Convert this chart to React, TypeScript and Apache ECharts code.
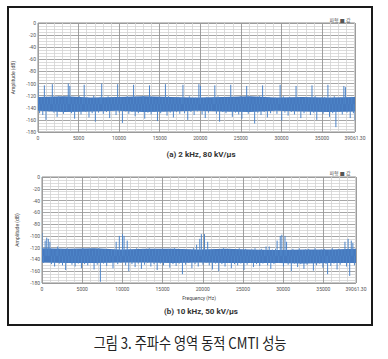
import React, { useEffect, useRef } from 'react';
import * as echarts from 'echarts';

const FREQ_MAX = 39061.3;
const AMP_MIN = -180;
const AMP_MAX = 0;

// (a) 2 kHz, 80 kV/us  – amplitude samples (dB), evenly spaced from 0 to FREQ_MAX
const ampA: number[] = [
  -102, -149, -123, -152, -103, -160, -125, -146, -122, -101,
  -148, -124, -155, -121, -147, -126, -150, -123, -145, -100,
  -104, -149, -122, -158, -125, -146, -121, -151, -124, -102,
  -147, -123, -156, -126, -149, -120, -163, -124, -148, -122,
  -100, -150, -125, -147, -121, -157, -124, -145, -122, -152,
  -101, -148, -123, -165, -125, -146, -121, -150, -126, -147,
  -102, -154, -122, -149, -124, -146, -120, -158, -125, -148,
  -103, -151, -123, -147, -126, -162, -122, -149, -124, -146,
  -101, -153, -121, -148, -125, -156, -123, -147, -122, -150,
  -124, -102, -149, -126, -160, -121, -147, -125, -152, -123,
  -146, -101, -104, -151, -124, -157, -122, -148, -126, -145,
  -123, -103, -150, -121, -163, -125, -147, -122, -149, -124,
  -146, -102, -155, -123, -148, -126, -151, -121, -158, -124,
  -147, -104, -150, -122, -145, -125, -166, -123, -148, -121,
  -152, -103, -147, -124, -156, -122, -149, -126, -146, -123,
  -150, -125, -102, -161, -121, -148, -124, -153, -122, -147,
  -125, -151, -104, -146, -123, -157, -126, -149, -122, -145,
  -124, -152, -103, -148, -121, -160, -125, -147, -123, -150,
  -122, -146, -102, -155, -124, -149, -121, -172, -125, -147,
  -123, -151, -104, -106, -148, -124, -157, -122, -149, -161,
];
// dense noise-floor core of (a): upper and lower edges (dB), evenly spaced
const coreTopA: number[] = [-122, -121, -123, -122, -121, -122, -123, -122, -121, -123, -122, -123, -122];
const coreBottomA: number[] = [-145, -147, -146, -145, -147, -146, -145, -146, -147, -145, -146, -147, -146];

// (b) 10 kHz, 50 kV/us
const ampB: number[] = [
  -95, -146, -108, -103, -105, -110, -148, -123, -152, -125,
  -118, -147, -122, -150, -124, -158, -121, -146, -125, -149,
  -123, -152, -122, -147, -126, -155, -121, -148, -124, -150,
  -122, -146, -125, -157, -123, -149, -121, -178, -124, -147,
  -122, -151, -125, -146, -123, -155, -124, -110, -148, -100,
  -146, -97, -100, -150, -108, -160, -122, -148, -124, -153,
  -121, -147, -125, -156, -122, -149, -124, -146, -121, -152,
  -125, -148, -122, -158, -124, -147, -123, -150, -126, -146,
  -122, -154, -124, -148, -121, -151, -125, -147, -123, -165,
  -122, -149, -125, -146, -123, -155, -121, -148, -115, -152,
  -105, -97, -149, -97, -146, -110, -150, -124, -157, -122,
  -147, -125, -160, -123, -148, -121, -152, -124, -146, -122,
  -155, -125, -148, -123, -150, -121, -147, -124, -158, -122,
  -149, -125, -146, -123, -153, -121, -148, -124, -151, -122,
  -147, -125, -118, -150, -118, -156, -123, -148, -122, -108,
  -146, -100, -98, -152, -100, -110, -149, -124, -160, -122,
  -147, -125, -153, -121, -148, -124, -156, -123, -149, -122,
  -146, -125, -159, -121, -150, -124, -147, -123, -154, -122,
  -148, -165, -124, -151, -121, -147, -125, -157, -122, -149,
  -124, -146, -110, -152, -105, -168, -108, -112, -150, -123,
];
const coreTopB: number[] = [-121, -122, -121, -123, -122, -122, -123, -122, -123, -124, -123, -123, -122];
const coreBottomB: number[] = [-145, -146, -146, -145, -145, -146, -145, -146, -146, -146, -147, -146, -146];

const titleA = '(a) 2 kHz, 80 kV/μs';
const titleB = '(b) 10 kHz, 50 kV/μs';
const caption = '그림 3. 주파수 영역 동적 CMTI 성능';
const yName = 'Amplitude (dB)';
const xName = 'Frequency (Hz)';
const legendText = '파형 ■ 값';

function toPoints(arr: number[]) {
  const step = FREQ_MAX / (arr.length - 1);
  return arr.map((v, i) => [i * step, v]);
}

const LINE_COLOR = '#4f86c9';
const CORE_COLOR = '#4679be';
const MAJOR = '#8f8f8f';
const MINOR = '#d3d3d3';
const LABEL = '#555';
const STROKE_BASE = -134;

function xAxesFor(g: number, withName: boolean) {
  const minor = {
    type: 'value', gridIndex: g, position: 'bottom', min: 0, max: FREQ_MAX, interval: 1000, z: 0,
    axisLine: { show: false }, axisTick: { show: false }, axisLabel: { show: false },
    splitLine: { show: true, lineStyle: { color: MINOR, width: 0.8 } },
  };
  const major: any = {
    type: 'value', gridIndex: g, position: 'bottom', min: 0, max: FREQ_MAX, interval: 5000, z: 1,
    axisLine: { show: false }, axisTick: { show: false },
    axisLabel: {
      fontSize: 5, color: LABEL, margin: 3, showMaxLabel: true, showMinLabel: true,
      formatter: (v: number) => (v >= FREQ_MAX - 0.01 ? FREQ_MAX.toFixed(2) : String(v)),
    },
    splitLine: { show: true, lineStyle: { color: MAJOR, width: 0.8 } },
  };
  if (withName) {
    major.name = xName;
    major.nameLocation = 'middle';
    major.nameGap = 12;
    major.nameTextStyle = { fontSize: 5, color: '#444' };
  }
  return [minor, major];
}

function yAxisFor(g: number, gap: number) {
  return {
    type: 'value', gridIndex: g, min: AMP_MIN, max: AMP_MAX, interval: 20,
    name: yName, nameLocation: 'middle', nameGap: gap,
    nameTextStyle: { fontSize: 5, color: '#444' },
    axisLine: { show: false }, axisTick: { show: false },
    axisLabel: { fontSize: 5, color: LABEL, margin: 2 },
    splitLine: { show: true, lineStyle: { color: MAJOR, width: 0.8 } },
    minorTick: { show: false, splitNumber: 4 },
    minorSplitLine: { show: true, lineStyle: { color: MINOR, width: 0.8 } },
  };
}

function coreSeries(top: number[], bottom: number[], xIdx: number, yIdx: number) {
  const topPts = toPoints(top);
  const botPts = toPoints(bottom);
  return {
    type: 'custom', coordinateSystem: 'cartesian2d', xAxisIndex: xIdx, yAxisIndex: yIdx,
    silent: true, z: 2, clip: true,
    data: [[topPts[0][0], topPts[0][1]]],
    renderItem: (_params: any, api: any) => {
      const pts = [...topPts, ...botPts.slice().reverse()].map((p) => api.coord(p));
      return { type: 'polygon', shape: { points: pts }, style: { fill: CORE_COLOR } };
    },
  };
}

function noiseSeries(arr: number[], xIdx: number, yIdx: number) {
  return {
    type: 'custom', coordinateSystem: 'cartesian2d', xAxisIndex: xIdx, yAxisIndex: yIdx,
    data: toPoints(arr), silent: true, z: 3, clip: true,
    encode: { x: 0, y: 1 },
    renderItem: (_params: any, api: any) => {
      const x = api.value(0);
      const v = api.value(1);
      const p0 = api.coord([x, STROKE_BASE]);
      const p1 = api.coord([x, v]);
      return {
        type: 'line',
        shape: { x1: p0[0], y1: p0[1], x2: p1[0], y2: p1[1] },
        style: { stroke: LINE_COLOR, lineWidth: 1 },
      };
    },
  };
}

export default function App() {
  const ref = useRef<HTMLDivElement>(null);
  useEffect(() => {
    if (!ref.current) return;
    const chart = echarts.init(ref.current, undefined, { renderer: 'svg' });
    chart.setOption({
      animation: false,
      backgroundColor: '#ffffff',
      textStyle: { fontFamily: 'Roboto, "Noto Sans", sans-serif' },
      grid: [
        { left: 38, top: 23, width: 317, height: 109, show: true, borderColor: MAJOR, borderWidth: 1, backgroundColor: 'transparent' },
        { left: 42, top: 177, width: 314, height: 106, show: true, borderColor: MAJOR, borderWidth: 1, backgroundColor: 'transparent' },
      ],
      xAxis: [...xAxesFor(0, false), ...xAxesFor(1, true)],
      yAxis: [yAxisFor(0, 17), yAxisFor(1, 16)],
      series: [
        coreSeries(coreTopA, coreBottomA, 1, 0),
        coreSeries(coreTopB, coreBottomB, 3, 1),
        noiseSeries(ampA, 1, 0),
        noiseSeries(ampB, 3, 1),
      ],
      graphic: [
        { type: 'rect', shape: { x: 8, y: 7, width: 364, height: 318 }, style: { fill: 'none', stroke: '#1a1a1a', lineWidth: 2 }, z: 10 },
        { type: 'text', x: 201, y: 154, style: { text: titleA, font: 'bold 8px Roboto', fill: '#333', align: 'center', verticalAlign: 'middle' } },
        { type: 'text', x: 201, y: 311, style: { text: titleB, font: 'bold 8px Roboto', fill: '#333', align: 'center', verticalAlign: 'middle' } },
        { type: 'text', x: 190, y: 342, scaleX: 0.85, style: { text: caption, font: '15.5px "Noto Sans CJK KR"', fill: '#222', align: 'center', verticalAlign: 'middle' } },
        { type: 'text', x: 340, y: 19, style: { text: legendText, font: '5px "Noto Sans CJK KR"', fill: '#555', align: 'center', verticalAlign: 'middle' } },
        { type: 'text', x: 340, y: 172, style: { text: legendText, font: '5px "Noto Sans CJK KR"', fill: '#555', align: 'center', verticalAlign: 'middle' } },
      ],
    });
    return () => chart.dispose();
  }, []);
  return (
    <div
      ref={ref}
      style={{ position: 'fixed', left: 0, top: 0, width: 388, height: 359, background: '#fff' }}
    />
  );
}
